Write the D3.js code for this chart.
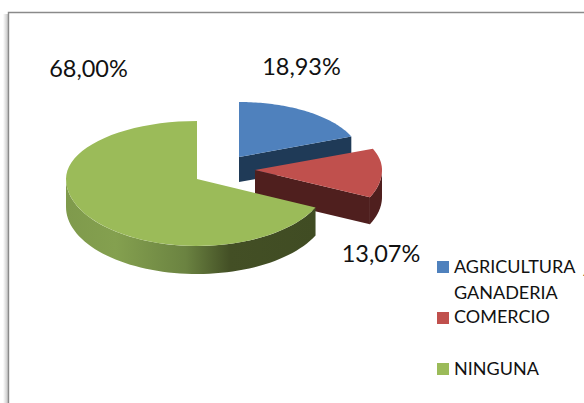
<!DOCTYPE html>
<html><head><meta charset="utf-8">
<script src="https://cdn.jsdelivr.net/npm/d3@7"></script>
<style>html,body{margin:0;padding:0;background:#fff;overflow:hidden}svg{display:block}text{font-family:Lato,"Open Sans",sans-serif;fill:#111}</style>
</head><body><svg id="c" width="584" height="403"></svg>
<script>
const categories = ["AGRICULTURA y GANADERIA", "COMERCIO", "NINGUNA"];
const legendLines = [["AGRICULTURA", "GANADERIA"], ["COMERCIO"], ["NINGUNA"]];
const values = [18.93, 13.07, 68.00];
const valueLabels = ["18,93%", "13,07%", "68,00%"];
const faceColors = ["#4f81bd", "#c0504d", "#9bbb59"];
const sideColors = ["#1f3a57", "#4f1f1e", "url(#greenSide)"];

const svg = d3.select("#c");
const W = 584, H = 403;
const defs = svg.append("defs");
const grad = defs.append("linearGradient").attr("id", "greenSide").attr("gradientUnits", "userSpaceOnUse")
  .attr("x1", 66).attr("x2", 315).attr("y1", 0).attr("y2", 0);
[[0, "#7f9a4c"], [0.2, "#84a04f"], [0.48, "#6b8341"], [0.66, "#434f25"], [1, "#404c23"]]
  .forEach(([o, c]) => grad.append("stop").attr("offset", o).attr("stop-color", c));
const sh = defs.append("linearGradient").attr("id", "frameShadow");
[[0, "#ffffff"], [1, "#c4c4c4"]].forEach(([o, c]) => sh.append("stop").attr("offset", o).attr("stop-color", c));
defs.append("clipPath").attr("id", "tailClip").append("rect")
  .attr("x", 578).attr("y", 273).attr("width", 6).attr("height", 6);

// chart frame
svg.append("rect").attr("x", 3).attr("y", 14).attr("width", 5).attr("height", H - 14).attr("fill", "url(#frameShadow)");
svg.append("path").attr("d", `M8.5,${H}V12.5H${W}`).attr("fill", "none").attr("stroke", "#8a8a8a").attr("stroke-width", 1.4);

// 3D pie
const apex = [[239, 157], [255, 170], [197, 179]];
const rxs = [121, 127, 131], ryBacks = [55, 57, 58], ryFronts = [65, 64, 67], depths = [25, 27, 28];
const project = (i, a, dz = 0) => {
  const c = Math.cos(a);
  return [apex[i][0] + rxs[i] * Math.sin(a),
          apex[i][1] - c * (c > 0 ? ryBacks[i] : ryFronts[i]) + dz];
};
const line = d3.line();
const arcs = d3.pie().sort(null)(values);
const arcPts = (i, a0, a1, dz) => d3.range(0, 61).map(k => project(i, a0 + (a1 - a0) * k / 60, dz));
const quarter = Math.PI / 2;

const g = svg.append("g");
arcs.forEach((d, i) => {
  const s = g.append("g");
  const side = sideColors[i], depth = depths[i];
  if (d.endAngle < Math.PI) {
    const e = project(i, d.endAngle);
    s.append("path").attr("fill", side)
      .attr("d", line([apex[i], e, [e[0], e[1] + depth], [apex[i][0], apex[i][1] + depth]]) + "Z");
  }
  const a0 = Math.max(d.startAngle, quarter), a1 = Math.min(d.endAngle, 3 * quarter);
  if (a1 > a0) {
    s.append("path").attr("fill", side)
      .attr("d", line(arcPts(i, a0, a1, 0).concat(arcPts(i, a0, a1, depth).reverse())) + "Z");
  }
  s.append("path").attr("fill", faceColors[i])
    .attr("d", line([apex[i]].concat(arcPts(i, d.startAngle, d.endAngle, 0))) + "Z");
});

// data labels
const labelPos = [[301.5, 75], [381, 262], [88.5, 77]];
svg.append("g").selectAll("text").data(valueLabels).join("text")
  .attr("x", (d, i) => labelPos[i][0]).attr("y", (d, i) => labelPos[i][1])
  .attr("text-anchor", "middle").attr("font-size", 23.5).text(d => d);

// legend
const swatchY = [261, 312, 363];
const lineY = [[273, 299], [323], [375]];
const legend = svg.append("g");
legend.selectAll("rect").data(categories).join("rect")
  .attr("x", 437).attr("y", (d, i) => swatchY[i]).attr("width", 12).attr("height", 12)
  .attr("fill", (d, i) => faceColors[i]);
legendLines.forEach((ls, i) => ls.forEach((t, j) => {
  legend.append("text").attr("x", 454).attr("y", lineY[i][j]).attr("font-size", 18).text(t);
}));
// the "y" of the first category is cut off by the picture's edge
legend.append("text").attr("x", 581).attr("y", 273).attr("font-size", 18)
  .attr("clip-path", "url(#tailClip)").text("y");
</script></body></html>
